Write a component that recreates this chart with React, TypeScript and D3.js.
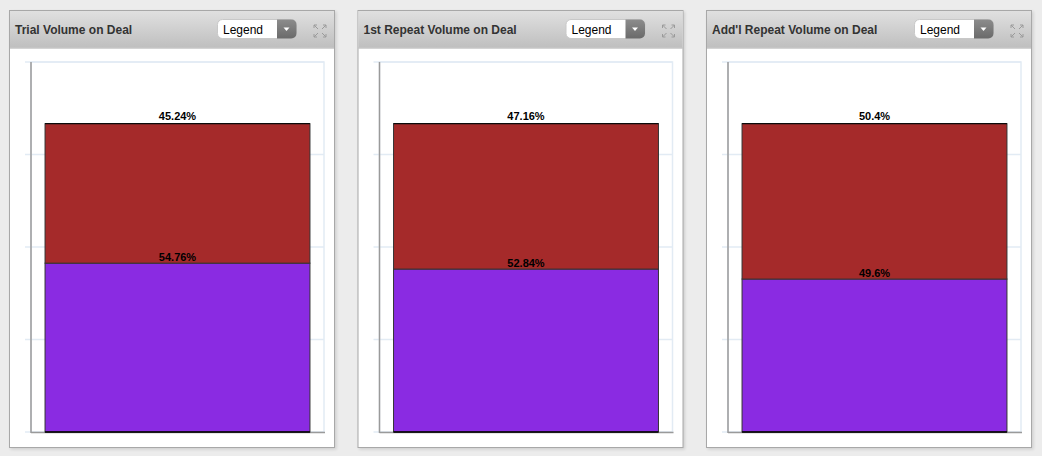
import React from "react";
import * as d3 from "d3";

const titles = ["Trial Volume on Deal", "1st Repeat Volume on Deal", "Add'l Repeat Volume on Deal"];
const categories = ["Deal"];
const purpleValues = [54.76, 52.84, 49.6];
const redValues = [45.24, 47.16, 50.4];
const purpleLabels = ["54.76%", "52.84%", "49.6%"];
const redLabels = ["45.24%", "47.16%", "50.4%"];
const yTicks = [0, 30, 60, 90, 120];

const W = 1042;
const H = 456;
const PANEL_W = 326;
const PANEL_H = 438;
const PANEL_Y = 10;
const PANEL_STEP = 348.5;
const HEADER_H = 37.5;
const PLOT_L = 22;
const PLOT_R = 315;
const PLOT_T = 62;
const PLOT_B = 432;

const RED = "#A52A2A";
const PURPLE = "#8A2BE2";
const GRID = "#e2ebf4";

function Panel({ i }: { i: number }) {
  const x0 = 9 + i * PANEL_STEP;
  const x = d3.scaleBand<string>().domain(categories).range([PLOT_L, PLOT_R]).paddingInner(0).paddingOuter(0.053);
  const y = d3.scaleLinear().domain([0, 120]).range([PLOT_B, PLOT_T]);
  const bx = x(categories[0]) as number;
  const bw = x.bandwidth();
  const pTop = y(purpleValues[i]);
  const rTop = y(purpleValues[i] + redValues[i]);
  const cx = bx + bw / 2;
  const ddX = 208;
  return (
    <g transform={`translate(${x0},${PANEL_Y})`}>
      <rect x={1.5} y={1.5} width={PANEL_W} height={PANEL_H} fill="#000" opacity={0.12} filter="url(#blur)" />
      <rect x={0.5} y={0.5} width={PANEL_W - 1} height={PANEL_H - 1} fill="#fff" stroke="#a8a8a8" />
      <rect x={1} y={1} width={PANEL_W - 2} height={HEADER_H - 1} fill="url(#hdr)" />
      <line x1={1} x2={PANEL_W - 1} y1={HEADER_H + 0.5} y2={HEADER_H + 0.5} stroke="#a8a8a8" />
      <text x={6} y={23.5} fontFamily="Arial, 'Liberation Sans', sans-serif" fontSize={12} fontWeight="bold" fill="#333">
        {titles[i]}
      </text>
      {/* dropdown */}
      <rect x={ddX + 0.5} y={9.5} width={79} height={19} rx={5} fill="#fff" stroke="#c8c8c8" />
      <path d={`M${ddX + 60},9.5 h14.5 a5,5 0 0 1 5,5 v9 a5,5 0 0 1 -5,5 h-14.5 z`} fill="url(#btn)" />
      <path d={`M${ddX + 66.5},17.5 h6 l-3,3.5 z`} fill="#fff" />
      <text x={ddX + 6} y={23.5} fontFamily="Arial, 'Liberation Sans', sans-serif" fontSize={12} fill="#000">
        Legend
      </text>
      {/* expand icon */}
      <g stroke="#9a9a9a" strokeWidth={1} fill="none" transform="translate(304,14)">
        <path d="M1,1 L5,5 M1,1 h3 M1,1 v3" />
        <path d="M13,1 L9,5 M13,1 h-3 M13,1 v3" />
        <path d="M1,13 L5,9 M1,13 h3 M1,13 v-3" />
        <path d="M13,13 L9,9 M13,13 h-3 M13,13 v-3" />
      </g>
      {/* plot frame & grid */}
      <g transform={`translate(0,${-PANEL_Y})`}>
        <rect x={PLOT_L} y={PLOT_T} width={PLOT_R - PLOT_L} height={PLOT_B - PLOT_T} fill="none" stroke={GRID} strokeWidth={1.5} />
        {yTicks.map((t) => (
          <line key={t} x1={PLOT_L - 6} x2={PLOT_R} y1={y(t)} y2={y(t)} stroke={GRID} strokeWidth={1.5} />
        ))}
        <line x1={PLOT_L} x2={PLOT_L} y1={PLOT_T} y2={PLOT_B + 1} stroke="#9a9a9a" strokeWidth={1.5} />
        <line x1={PLOT_L} x2={PLOT_R + 1} y1={PLOT_B + 0.5} y2={PLOT_B + 0.5} stroke="#9a9a9a" strokeWidth={1.5} />
        <rect x={bx} y={pTop} width={bw} height={PLOT_B - pTop} fill={PURPLE} stroke="#333" strokeWidth={1} />
        <rect x={bx} y={rTop} width={bw} height={pTop - rTop} fill={RED} stroke="#333" strokeWidth={1} />
        <line x1={bx} x2={bx + bw} y1={rTop} y2={rTop} stroke="#000" strokeWidth={1} />
        <line x1={bx} x2={bx + bw} y1={PLOT_B} y2={PLOT_B} stroke="#000" strokeWidth={1.5} />
        <text x={cx} y={rTop - 3.5} textAnchor="middle" fontFamily="Arial, 'Liberation Sans', sans-serif" fontSize={11} fontWeight="bold" fill="#000">
          {redLabels[i]}
        </text>
        <text x={cx} y={pTop - 2} textAnchor="middle" fontFamily="Arial, 'Liberation Sans', sans-serif" fontSize={11} fontWeight="bold" fill="#000">
          {purpleLabels[i]}
        </text>
      </g>
    </g>
  );
}

export default function App() {
  return (
    <svg width={W} height={H} style={{ position: "absolute", left: 0, top: 0 }}>
      <defs>
        <linearGradient id="hdr" x1="0" y1="0" x2="0" y2="1">
          <stop offset="0" stopColor="#e0e0e0" />
          <stop offset="1" stopColor="#bfbfbf" />
        </linearGradient>
        <linearGradient id="btn" x1="0" y1="0" x2="0" y2="1">
          <stop offset="0" stopColor="#8c8c8c" />
          <stop offset="1" stopColor="#6a6a6a" />
        </linearGradient>
        <filter id="blur" x="-5%" y="-5%" width="110%" height="110%">
          <feGaussianBlur stdDeviation="1.5" />
        </filter>
      </defs>
      <rect width={W} height={H} fill="#ececec" />
      {titles.map((_, i) => (
        <Panel key={i} i={i} />
      ))}
    </svg>
  );
}
